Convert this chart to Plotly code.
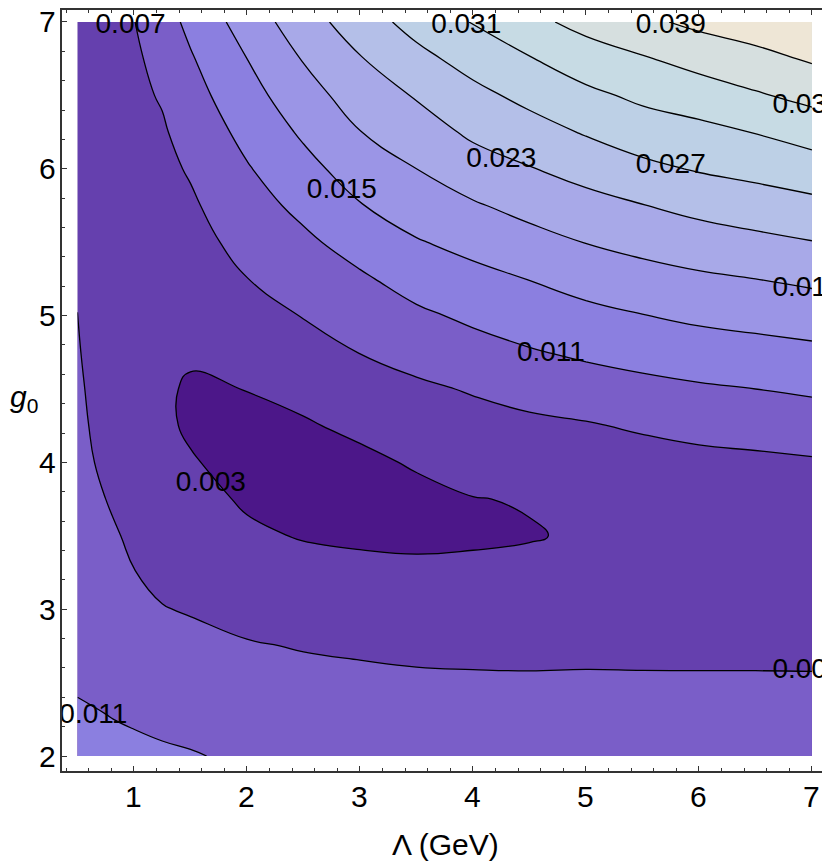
import plotly.graph_objects as go

# Lambda (GeV) grid columns and g0 grid rows
lam = [0.5, 0.75, 1.0, 1.25, 1.5, 2.0, 2.5, 3.0, 3.5, 4.0, 4.5, 5.0, 5.5, 6.0, 6.5, 7.0]
g0 = [2.0, 2.25, 2.5, 2.75, 3.0, 3.25, 3.5, 3.75, 4.0, 4.25, 4.5, 4.75,
      5.0, 5.25, 5.5, 5.75, 6.0, 6.25, 6.5, 6.75, 7.0]

# values, one row per g0 value
z = [
    [0.0122, 0.0120, 0.0117, 0.01145, 0.0112, 0.0105, 0.0097, 0.0093, 0.0090, 0.0089, 0.0088, 0.0087, 0.0086, 0.0086, 0.0086, 0.0086],
    [0.0113, 0.0111, 0.01074, 0.01035, 0.01008, 0.00941, 0.00876, 0.00845, 0.00822, 0.00813, 0.00806, 0.00799, 0.00793, 0.00792, 0.00792, 0.00791],
    [0.0108, 0.0104, 0.00983, 0.00926, 0.00898, 0.00831, 0.00783, 0.00761, 0.00744, 0.00737, 0.00732, 0.00728, 0.00725, 0.00724, 0.00724, 0.00722],
    [0.0099, 0.00972, 0.00891, 0.00817, 0.00788, 0.00722, 0.00684, 0.00661, 0.0064, 0.00633, 0.00632, 0.0065, 0.0065, 0.0065, 0.0065, 0.0065],
    [0.0092, 0.00904, 0.00799, 0.00712, 0.00678, 0.00601, 0.0055, 0.00522, 0.00505, 0.00505, 0.0051, 0.0052, 0.0053, 0.0054, 0.0054, 0.0055],
    [0.0087, 0.00836, 0.00707, 0.0063, 0.00588, 0.00478, 0.00417, 0.00383, 0.0037, 0.00377, 0.00388, 0.0042, 0.0042, 0.0043, 0.0044, 0.0045],
    [0.0083, 0.00768, 0.0064, 0.0055, 0.0050, 0.00354, 0.0028, 0.0025, 0.0023, 0.0025, 0.0028, 0.0034, 0.0037, 0.0039, 0.0040, 0.0041],
    [0.0079, 0.0070, 0.0058, 0.0047, 0.00409, 0.0026, 0.0020, 0.0016, 0.0019, 0.0029, 0.0032, 0.0038, 0.0042, 0.0045, 0.0047, 0.0049],
    [0.00768, 0.00655, 0.0054, 0.0039, 0.00318, 0.0022, 0.0017, 0.0021, 0.00342, 0.00435, 0.0048, 0.0051, 0.0054, 0.0059, 0.0062, 0.0066],
    [0.00753, 0.0062, 0.0051, 0.0034, 0.0027, 0.0023, 0.0026, 0.00384, 0.00491, 0.00576, 0.0063, 0.0067, 0.00749, 0.00821, 0.00867, 0.00914],
    [0.00735, 0.0060, 0.0050, 0.0034, 0.0027, 0.00305, 0.00413, 0.00545, 0.0064, 0.00728, 0.0082, 0.00915, 0.00993, 0.01053, 0.0110, 0.01153],
    [0.00715, 0.0059, 0.0050, 0.0037, 0.00334, 0.00435, 0.00563, 0.00707, 0.00825, 0.0096, 0.0107, 0.01165, 0.0124, 0.0131, 0.01363, 0.01416],
    [0.00702, 0.0059, 0.0051, 0.0040, 0.00412, 0.00565, 0.00713, 0.00876, 0.01033, 0.0117, 0.01291, 0.01398, 0.0149, 0.01574, 0.0163, 0.01689],
    [0.0068, 0.0059, 0.0052, 0.0044, 0.0049, 0.00695, 0.00869, 0.01046, 0.01251, 0.01387, 0.0151, 0.01647, 0.01753, 0.01837, 0.0190, 0.01975],
    [0.0066, 0.0060, 0.0054, 0.0049, 0.00569, 0.0082, 0.01025, 0.01255, 0.01473, 0.01617, 0.01767, 0.0191, 0.02019, 0.02117, 0.02203, 0.02288],
    [0.0064, 0.0061, 0.0056, 0.0055, 0.00647, 0.00945, 0.01195, 0.01482, 0.01687, 0.01861, 0.02023, 0.02167, 0.02289, 0.02416, 0.02513, 0.0260],
    [0.0062, 0.0062, 0.0058, 0.0061, 0.00735, 0.0107, 0.01376, 0.01688, 0.0190, 0.02121, 0.0228, 0.02441, 0.0261, 0.02732, 0.02818, 0.02927],
    [0.0060, 0.0063, 0.0060, 0.0066, 0.00845, 0.0121, 0.01558, 0.01892, 0.02113, 0.02371, 0.02542, 0.02733, 0.0290, 0.02995, 0.03114, 0.03265],
    [0.0059, 0.0064, 0.0062, 0.0073, 0.00955, 0.01355, 0.0174, 0.02085, 0.02331, 0.02593, 0.02808, 0.03011, 0.0318, 0.0330, 0.03459, 0.0361],
    [0.0058, 0.0065, 0.0065, 0.0080, 0.01065, 0.0150, 0.01924, 0.02277, 0.02587, 0.02849, 0.03078, 0.03313, 0.03466, 0.03643, 0.03784, 0.03945],
    [0.0057, 0.0066, 0.0069, 0.0094, 0.0119, 0.0168, 0.0212, 0.0251, 0.0284, 0.0312, 0.0340, 0.0362, 0.0382, 0.0399, 0.0411, 0.0430],
]

# contour labels as placed in the original
label_text = ["0.007", "0.015", "0.031", "0.039", "0.035", "0.023", "0.027",
              "0.019", "0.011", "0.003", "0.007", "0.011"]
label_lam = [0.97, 2.84, 3.94, 5.75, 6.96, 4.25, 5.75, 6.96, 4.69, 1.68, 6.96, 0.64]
label_g = [6.975, 5.85, 6.975, 6.975, 6.43, 6.06, 6.02, 5.18, 4.74, 3.85, 2.58, 2.27]

x_ticks = [1, 2, 3, 4, 5, 6, 7]
y_ticks = [2, 3, 4, 5, 6, 7]

band_colors = ["#4c1789", "#6540ae", "#7a5ec8", "#8b7fe0", "#9b95e6", "#a8a9e8",
               "#b4bfe8", "#bdd0e6", "#c7dbe4", "#d6dfdf", "#eee6d6"]
cscale = [[i / (len(band_colors) - 1), c] for i, c in enumerate(band_colors)]

font = "Liberation Sans, Arial, Helvetica, sans-serif"
tick_font = dict(family=font, size=30, color="black")

fig = go.Figure()
fig.add_trace(go.Contour(
    x=lam, y=g0, z=z,
    autocontour=False,
    contours=dict(start=0.003, end=0.039, size=0.004, coloring="fill", showlabels=False),
    colorscale=cscale, showscale=False,
    line=dict(color="black", width=1.3, smoothing=1.3),
    hoverinfo="skip"))
fig.add_trace(go.Scatter(
    x=label_lam, y=label_g, text=label_text, mode="text",
    textfont=dict(family=font, size=28, color="black"),
    cliponaxis=True, hoverinfo="skip", showlegend=False))

axis_style = dict(showline=True, linecolor="#333333", linewidth=1.5, mirror="allticks",
                  ticks="inside", ticklen=5, tickwidth=1, tickcolor="#333333",
                  showgrid=False, zeroline=False, showticklabels=False,
                  minor=dict(ticks="inside", ticklen=3, tickwidth=1, tickcolor="#333333",
                             dtick=0.2, tick0=0))
fig.update_xaxes(range=[0.363, 7.142], tickvals=x_ticks, **axis_style)
fig.update_yaxes(range=[1.898, 7.0815], tickvals=y_ticks, **axis_style)

# tick labels placed like Mathematica's frame labels
for v in x_ticks:
    fig.add_annotation(text=str(v), xref="x", yref="paper", x=v, y=-0.0341,
                       showarrow=False, xanchor="center", yanchor="middle", font=tick_font)
for v in y_ticks:
    fig.add_annotation(text=str(v), xref="paper", yref="y", x=-0.0189, y=v,
                       showarrow=False, xanchor="center", yanchor="middle", font=tick_font)

fig.add_annotation(text="Λ (GeV)", xref="paper", yref="paper", x=0.5, y=-0.097,
                   showarrow=False, xanchor="center", yanchor="middle", font=tick_font)
fig.add_annotation(text="<i>g</i><sub>0</sub>", xref="paper", yref="paper", x=-0.0705, y=0.49,
                   showarrow=False, xanchor="left", yanchor="middle", font=tick_font)

# the page adds an 8px body margin, so the figure is 8px smaller and shifted
fig.update_layout(width=822, height=859, margin=dict(l=54, r=2, t=0, b=96),
                  paper_bgcolor="white", plot_bgcolor="white", showlegend=False)
fig.write_html("out.html")
